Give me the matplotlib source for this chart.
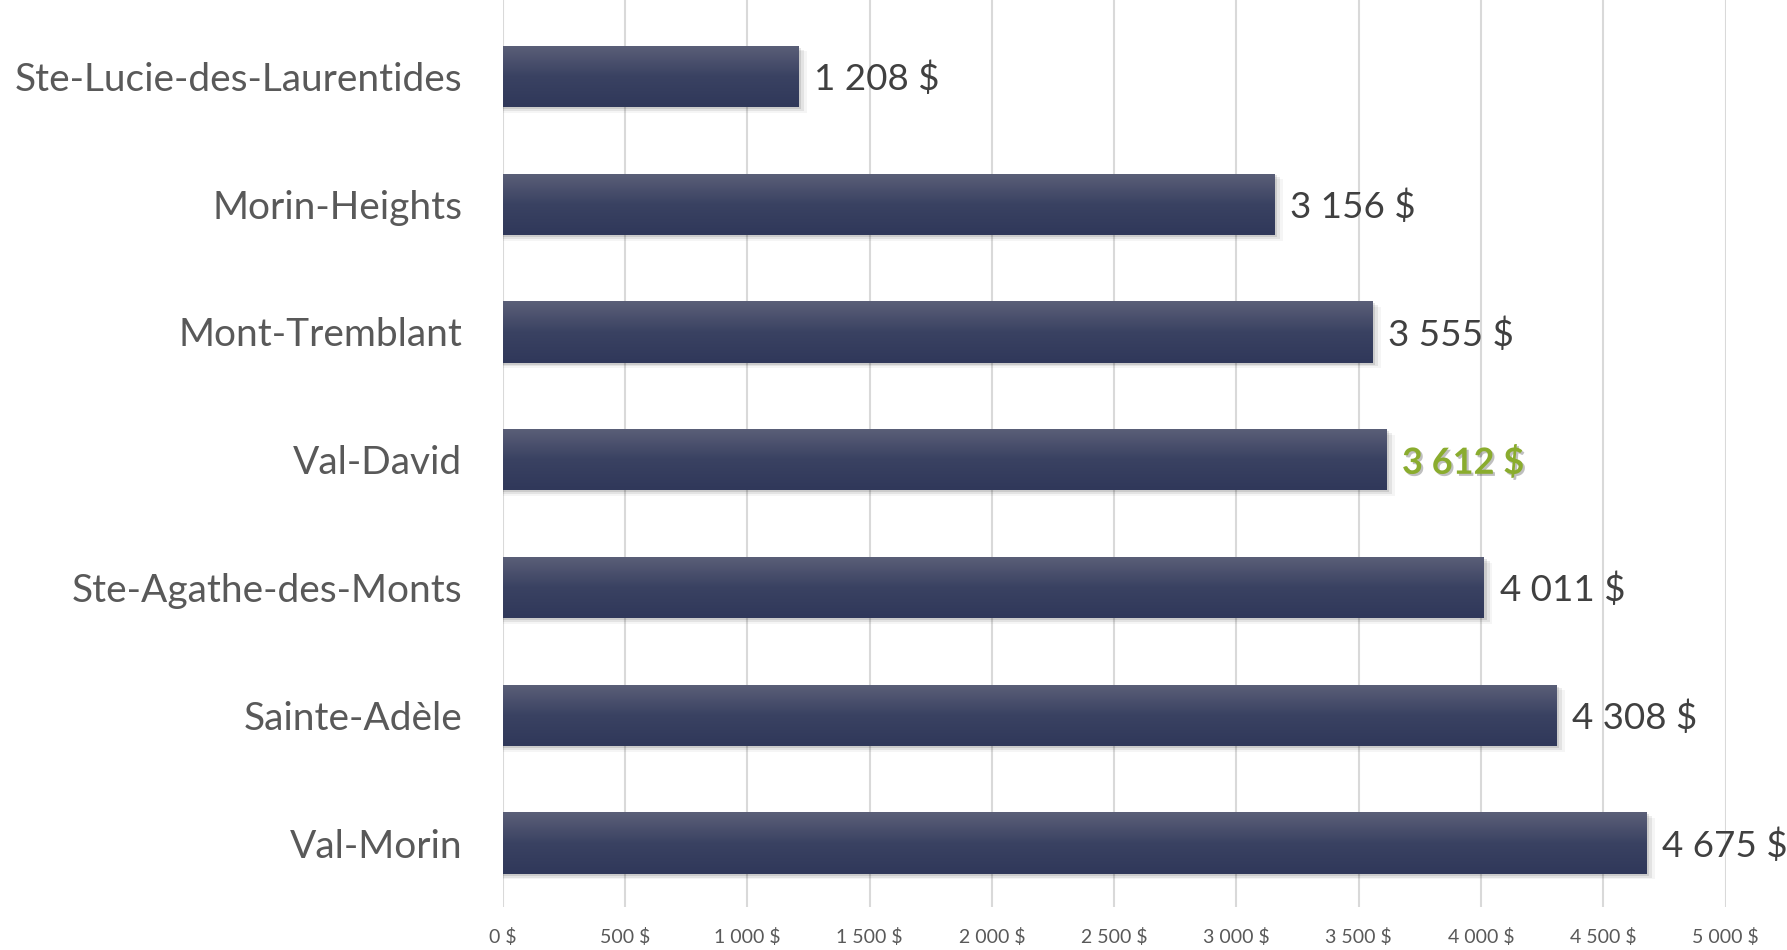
import matplotlib
matplotlib.use("Agg")

import matplotlib.pyplot as plt
import matplotlib.patheffects as pe
import numpy as np
from matplotlib.colors import LinearSegmentedColormap

# Data
municipalities = [
    "Ste-Lucie-des-Laurentides",
    "Morin-Heights",
    "Mont-Tremblant",
    "Val-David",
    "Ste-Agathe-des-Monts",
    "Sainte-Adèle",
    "Val-Morin",
]
values = [1208, 3156, 3555, 3612, 4011, 4308, 4675]
highlight = "Val-David"
x_ticks = [0, 500, 1000, 1500, 2000, 2500, 3000, 3500, 4000, 4500, 5000]


def fmt_money(v):
    return f"{v:,}".replace(",", " ") + " $"


plt.rcParams["font.family"] = ["Lato", "DejaVu Sans"]

fig = plt.figure(figsize=(17.87, 9.5), dpi=100)
ax = fig.add_axes([0.2813, 0.0453, 0.9656 - 0.2813, 1 - 0.0453])

bar_h = 0.48
y_pos = np.arange(len(municipalities))
grad = LinearSegmentedColormap.from_list("bar", ["#5b5f78", "#3a4262", "#30385a"])
grad_img = np.linspace(0, 1, 64).reshape(-1, 1)

for y, v, name in zip(y_pos, values, municipalities):
    # soft drop shadow
    for k, a in enumerate([0.10, 0.07, 0.04]):
        off = 0.015 * (k + 1)
        ax.add_patch(plt.Rectangle((0, y - bar_h / 2 + off), v + 12 * (k + 1), bar_h,
                                   color="#000000", alpha=a, lw=0, zorder=2))
    rect = plt.Rectangle((0, y - bar_h / 2), v, bar_h, facecolor="none", lw=0, zorder=3)
    ax.add_patch(rect)
    im = ax.imshow(grad_img, cmap=grad, aspect="auto", zorder=3,
                   extent=(0, v, y + bar_h / 2, y - bar_h / 2), interpolation="bilinear")
    im.set_clip_path(rect)

    if name == highlight:
        ax.text(v + 65, y + 0.02, fmt_money(v), va="center", ha="left", fontsize=26,
                fontweight="bold", color="#8aac2e", zorder=4, clip_on=False,
                path_effects=[pe.withSimplePatchShadow(offset=(1.5, -1.5),
                                                       shadow_rgbFace="#000000", alpha=0.25)])
    else:
        ax.text(v + 65, y + 0.02, fmt_money(v), va="center", ha="left", fontsize=26.5,
                color="#404040", zorder=4, clip_on=False)

ax.set_xlim(0, 5000)
ax.set_ylim(6.5, -0.598)

ax.set_xticks(x_ticks)
ax.set_xticklabels([fmt_money(t) for t in x_ticks], fontsize=14, color="#595959")
ax.set_yticks(y_pos)
ax.set_yticklabels(municipalities, fontsize=28, color="#595959")

ax.grid(axis="x", color="#d9d9d9", linewidth=1.5, zorder=0)
ax.set_axisbelow(True)
ax.tick_params(axis="both", length=0)
ax.tick_params(axis="y", pad=29)
ax.tick_params(axis="x", pad=15)
for s in ax.spines.values():
    s.set_visible(False)

fig.savefig("out.png", dpi=100)
